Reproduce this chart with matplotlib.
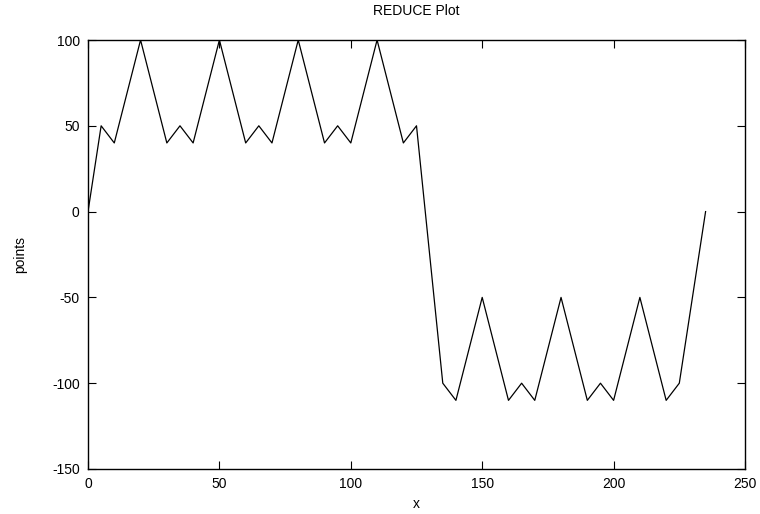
import matplotlib
matplotlib.use("Agg")
import matplotlib.pyplot as plt

x_vals = [0, 5, 10, 20, 30, 35, 40, 50, 60, 65, 70, 80, 90, 95, 100, 110, 120, 125,
          135, 140, 150, 160, 165, 170, 180, 190, 195, 200, 210, 220, 225, 235]
y_vals = [0, 50, 40, 100, 40, 50, 40, 100, 40, 50, 40, 100, 40, 50, 40, 100, 40, 50,
          -100, -110, -50, -110, -100, -110, -50, -110, -100, -110, -50, -110, -100, 0]
x_ticks = [0, 50, 100, 150, 200, 250]
y_ticks = [-150, -100, -50, 0, 50, 100]

plt.rcParams['font.family'] = ['Liberation Sans', 'DejaVu Sans']
plt.rcParams['axes.unicode_minus'] = False
fig = plt.figure(figsize=(7.6, 5.14), dpi=100)
ax = fig.add_axes([88/760, 1-469/514, (745-88)/760, (469-40)/514])
ax.plot(x_vals, y_vals, color='black', linewidth=0.9)
ax.set_xlim(0, 250)
ax.set_ylim(-150, 100)
ax.set_xticks(x_ticks)
ax.set_yticks(y_ticks)
ax.tick_params(direction='in', length=6, width=0.8, top=True, right=True, labelsize=10, pad=6)
for s in ax.spines.values():
    s.set_linewidth(1.0)
ax.set_title('REDUCE Plot', fontsize=10, pad=18)
ax.set_xlabel('x', fontsize=10, labelpad=4)
ax.set_ylabel('points', fontsize=10, labelpad=18)
fig.savefig('out.png', dpi=100)
